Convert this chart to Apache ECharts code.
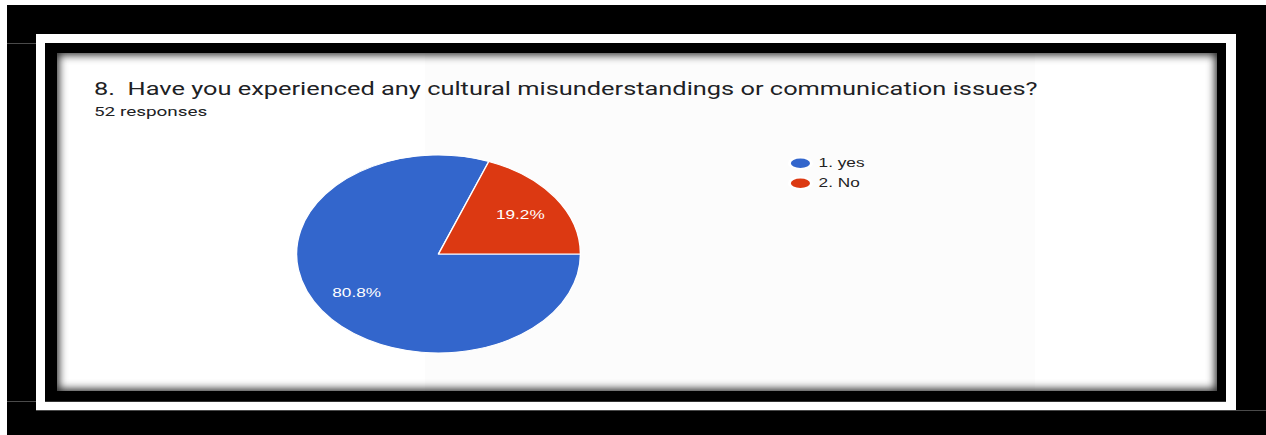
<!DOCTYPE html>
<html>
<head>
<meta charset="utf-8">
<script src="https://cdn.jsdelivr.net/npm/echarts@6/dist/echarts.min.js"></script>
<style>
  html, body { margin: 0; padding: 0; }
  body { width: 1266px; height: 435px; background: #000; position: relative; overflow: hidden; }
  .abs { position: absolute; }
  #marginTop { left: 0; top: 0; width: 1266px; height: 5px; background: #fff; }
  #marginLeft { left: 0; top: 0; width: 7px; height: 435px; background: #fff; }
  #strip { left: 36px; top: 34px; width: 1200px; height: 376px; background: #fff; }
  #frame { left: 45px; top: 43px; width: 1181px; height: 359px; background: #000; }
  #card { left: 57px; top: 53px; width: 1160px; height: 338px; background: #fff;
          box-shadow: inset 0 0 9px 2px rgba(0,0,0,0.85); }
  #tint { left: 425px; top: 53px; width: 610px; height: 338px; background: rgba(0,0,0,0.012); }
  .rule { height: 1px; background: #4a4a4a; }
  #chart { left: 0; top: 0; height: 435px; transform-origin: 0 0; }
</style>
</head>
<body>
<div id="marginTop" class="abs"></div>
<div id="marginLeft" class="abs"></div>
<div class="abs rule" style="left:7px;top:43px;width:29px"></div>
<div class="abs rule" style="left:7px;top:401px;width:29px"></div>
<div id="strip" class="abs"></div>
<div class="abs rule" style="left:36px;top:410px;width:1230px"></div>
<div id="frame" class="abs"></div>
<div class="abs rule" style="left:45px;top:401px;width:1181px;background:#333"></div>
<div id="card" class="abs"></div>
<div id="tint" class="abs"></div>
<div id="chart" class="abs"></div>
<script>
// Survey question 8: answers and response counts
const questionTitle = '8.  Have you experienced any cultural misunderstandings or communication issues?';
const responseNote = '52 responses';
const categories = ['1. yes', '2. No'];
const responseCounts = [42, 10];
const sliceColors = ['#3366cc', '#dc3912'];

// The chart is drawn in a narrower box and widened horizontally,
// which makes the pie an ellipse and widens the text the same way.
const stretch = 1.434;
const pageW = 1266;
const chartW = pageW / stretch;
const chartEl = document.getElementById('chart');
chartEl.style.width = chartW + 'px';
chartEl.style.transform = 'scaleX(' + stretch + ')';

const ellipseIcon = 'path://M0,5A5,5 0 1,0 10,5A5,5 0 1,0 0,5Z';

const sliceData = categories.map((name, i) => ({
  name: name,
  value: responseCounts[i],
  itemStyle: { color: sliceColors[i] }
}));

const pieCenter = [438.5 / stretch, 254];
const pieRadius = 99;

const chart = echarts.init(chartEl, null, { renderer: 'svg' });
chart.setOption({
  animation: false,
  backgroundColor: 'transparent',
  title: {
    text: questionTitle,
    subtext: responseNote,
    left: 94 / stretch,
    top: 80,
    itemGap: 7,
    padding: 0,
    textStyle: { fontFamily: 'Roboto', fontSize: 17.7, fontWeight: 'normal', color: '#202124' },
    subtextStyle: { fontFamily: 'Roboto', fontSize: 13.2, color: '#202124' }
  },
  legend: {
    orient: 'vertical',
    left: 788 / stretch,
    top: 156.5,
    padding: 0,
    itemWidth: 22 / stretch,
    itemHeight: 11.5,
    itemGap: 6.5,
    icon: ellipseIcon,
    symbolKeepAspect: false,
    data: categories,
    selectedMode: false,
    textStyle: { fontFamily: 'Liberation Sans', fontSize: 12, color: '#222', lineHeight: 11.5 }
  },
  series: [
    {
      type: 'pie',
      center: pieCenter,
      radius: pieRadius,
      startAngle: 0,
      clockwise: true,
      percentPrecision: 1,
      silent: true,
      label: { show: false },
      labelLine: { show: false },
      itemStyle: { borderColor: '#ffffff', borderWidth: 1 },
      data: sliceData
    },
    {
      // transparent ring that carries the percentage labels
      type: 'pie',
      center: pieCenter,
      radius: [pieRadius * 0.34, pieRadius],
      startAngle: 0,
      clockwise: true,
      percentPrecision: 1,
      silent: true,
      itemStyle: { color: 'rgba(0,0,0,0)', borderWidth: 0 },
      label: {
        show: true,
        position: 'inside',
        formatter: '{d}%',
        fontFamily: 'Liberation Sans',
        fontSize: 12,
        color: '#ffffff'
      },
      labelLine: { show: false },
      data: categories.map((name, i) => ({ name: name, value: responseCounts[i] }))
    }
  ]
});
</script>
</body>
</html>
